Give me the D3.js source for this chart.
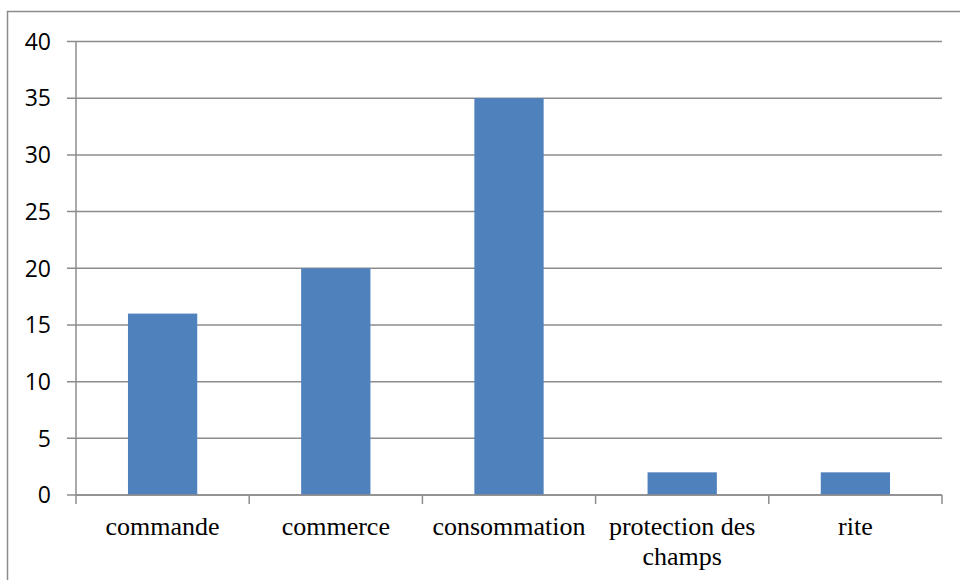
<!DOCTYPE html>
<html>
<head>
<meta charset="utf-8">
<script src="https://cdn.jsdelivr.net/npm/d3@7"></script>
<style>
  html, body { margin: 0; padding: 0; background: #fff; }
  svg { display: block; }
</style>
</head>
<body>
<svg id="chart" width="960" height="580"></svg>
<script>
// Usage categories and counts
const categories = ["commande", "commerce", "consommation", "protection des champs", "rite"];
const values = [16, 20, 35, 2, 2];
const yTicks = [0, 5, 10, 15, 20, 25, 30, 35, 40];

const svg = d3.select("#chart");
const plot = { left: 76, right: 942, top: 41.5, bottom: 495 };

// Outer chart frame
svg.append("rect")
  .attr("x", 7.5).attr("y", 11.5)
  .attr("width", 970).attr("height", 600)
  .attr("fill", "none").attr("stroke", "#8c8c8c").attr("stroke-width", 1.5);

const x = d3.scaleBand()
  .domain(categories)
  .range([plot.left, plot.right])
  .paddingInner(0.6)
  .paddingOuter(0.3);

const y = d3.scaleLinear().domain([0, 40]).range([plot.bottom, plot.top]);

// Horizontal gridlines with outward ticks
svg.append("g")
  .selectAll("line")
  .data(yTicks)
  .join("line")
  .attr("x1", plot.left - 9).attr("x2", plot.right)
  .attr("y1", d => y(d)).attr("y2", d => y(d))
  .attr("stroke", "#8c8c8c").attr("stroke-width", 1.5);

// Y axis labels
svg.append("g")
  .selectAll("text")
  .data(yTicks)
  .join("text")
  .attr("x", 51).attr("y", d => y(d))
  .attr("dy", "0.36em")
  .attr("text-anchor", "end")
  .attr("font-family", "'Open Sans', 'Liberation Sans', sans-serif")
  .attr("font-size", 23)
  .attr("fill", "#000")
  .text(d => d);

// Bars
svg.append("g")
  .selectAll("rect")
  .data(values)
  .join("rect")
  .attr("x", (d, i) => x(categories[i]))
  .attr("y", d => y(d))
  .attr("width", x.bandwidth())
  .attr("height", d => y(0) - y(d))
  .attr("fill", "#4f81bd");

// Y axis line
svg.append("line")
  .attr("x1", plot.left).attr("x2", plot.left)
  .attr("y1", plot.top).attr("y2", plot.bottom)
  .attr("stroke", "#8c8c8c").attr("stroke-width", 1.5);

// X axis baseline and category boundary ticks
svg.append("line")
  .attr("x1", plot.left).attr("x2", plot.right)
  .attr("y1", plot.bottom).attr("y2", plot.bottom)
  .attr("stroke", "#8c8c8c").attr("stroke-width", 1.5);

const step = x.step();
const boundaries = d3.range(categories.length + 1).map(i => plot.left + i * step);
svg.append("g")
  .selectAll("line")
  .data(boundaries)
  .join("line")
  .attr("x1", d => d).attr("x2", d => d)
  .attr("y1", plot.bottom).attr("y2", plot.bottom + 9)
  .attr("stroke", "#8c8c8c").attr("stroke-width", 1.5);

// Category labels, wrapped where needed
const labelLines = {
  "protection des champs": ["protection des", "champs"]
};
const labels = svg.append("g")
  .selectAll("text")
  .data(categories)
  .join("text")
  .attr("text-anchor", "middle")
  .attr("font-family", "'Liberation Serif', 'Times New Roman', serif")
  .attr("font-size", 26)
  .attr("fill", "#000");
labels.each(function(d) {
  const lines = labelLines[d] || [d];
  const cx = x(d) + x.bandwidth() / 2;
  d3.select(this).selectAll("tspan")
    .data(lines)
    .join("tspan")
    .attr("x", cx)
    .attr("y", (l, i) => 535 + i * 30)
    .text(l => l);
});
</script>
</body>
</html>
